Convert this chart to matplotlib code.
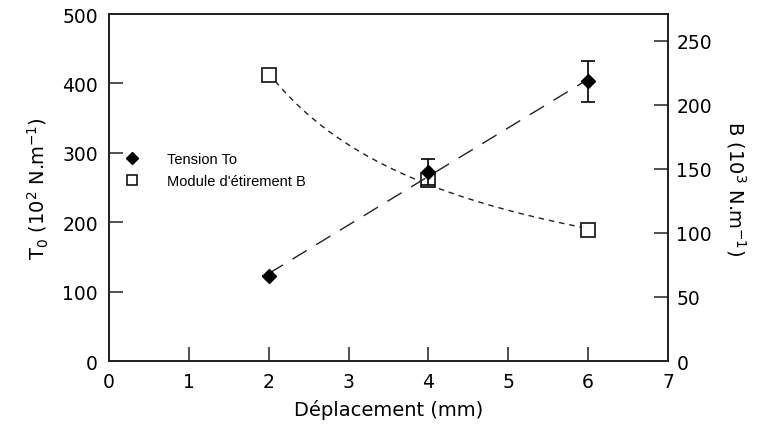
import matplotlib
matplotlib.use("Agg")
import matplotlib.pyplot as plt
import numpy as np
from matplotlib.lines import Line2D

# Measurements vs. displacement
deplacement = [2, 4, 6]
tension = [123, 272, 403]
tension_err = [0, 19, 30]
module_b = [223, 141, 102]
module_b_err = [0, 5, 0]

x_ticks = [0, 1, 2, 3, 4, 5, 6, 7]
t_ticks = [0, 100, 200, 300, 400, 500]
b_ticks = [0, 50, 100, 150, 200, 250]

plt.rcParams["font.family"] = "DejaVu Sans"
plt.rcParams["mathtext.fontset"] = "dejavusans"

fig = plt.figure(figsize=(7.64, 4.35), dpi=100)
ax = fig.add_axes([0.1427, 0.1678, 0.7316, 0.7977])
ax2 = ax.twinx()
# keep the tension markers on top of the B squares
ax.set_zorder(ax2.get_zorder() + 1)
ax.patch.set_visible(False)

# tension: linear trend + points
xs = np.array(deplacement, dtype=float)
p = np.polyfit(xs, tension, 1)
xl = np.linspace(xs[0], xs[-1], 50)
ax.plot(xl, np.polyval(p, xl), color="#222222", lw=1.0, dashes=(12, 8))
ax.errorbar(deplacement, tension, yerr=tension_err, fmt="D", color="black",
            ms=7, ecolor="black", elinewidth=1.2, capsize=5, capthick=1.2, zorder=5)

# B: power-law trend + open squares
pb = np.polyfit(np.log(xs), np.log(module_b), 1)
xc = np.linspace(xs[0], xs[-1], 100)
ax2.plot(xc, np.exp(pb[1]) * xc ** pb[0], color="#222222", lw=1.0, dashes=(4, 3.5))
ax2.errorbar(deplacement, module_b, yerr=module_b_err, fmt="s", mfc="white",
             mec="#222222", mew=1.3, ms=10, ecolor="black", elinewidth=1.2,
             capsize=5, capthick=1.2, zorder=4)

ax.set_xlim(0, 7)
ax.set_ylim(0, 500)
ax2.set_ylim(0, 271)
ax.set_xticks(x_ticks)
ax.set_yticks(t_ticks)
ax2.set_yticks(b_ticks)

ax.tick_params(axis="both", direction="in", length=10, width=1.2, labelsize=13.5, pad=8,
               color="#333333")
ax2.tick_params(axis="y", direction="in", length=10, width=1.2, labelsize=13.5, pad=6,
                color="#333333")
for a in (ax, ax2):
    for s in a.spines.values():
        s.set_linewidth(1.3)
        s.set_color("#222222")

ax.set_xlabel("Déplacement (mm)", fontsize=14, labelpad=6)
ax.set_ylabel(r"T$_0$ (10$^2$ N.m$^{-1}$)", fontsize=14, labelpad=8)
ax2.set_ylabel(r"B (10$^3$ N.m$^{-1}$)", fontsize=14, rotation=270, labelpad=26)

handles = [
    Line2D([], [], marker="D", color="black", ls="none", ms=6),
    Line2D([], [], marker="s", mfc="white", mec="black", ls="none", ms=7, mew=1.1),
]
ax.legend(handles, ["Tension To", "Module d'étirement B"], loc="upper left",
          bbox_to_anchor=(0.005, 0.64), frameon=False, handlelength=1.0,
          handletextpad=1.9, labelspacing=0.55,
          prop={"family": "Liberation Sans", "size": 10.5})

fig.savefig("out.png", dpi=100)
